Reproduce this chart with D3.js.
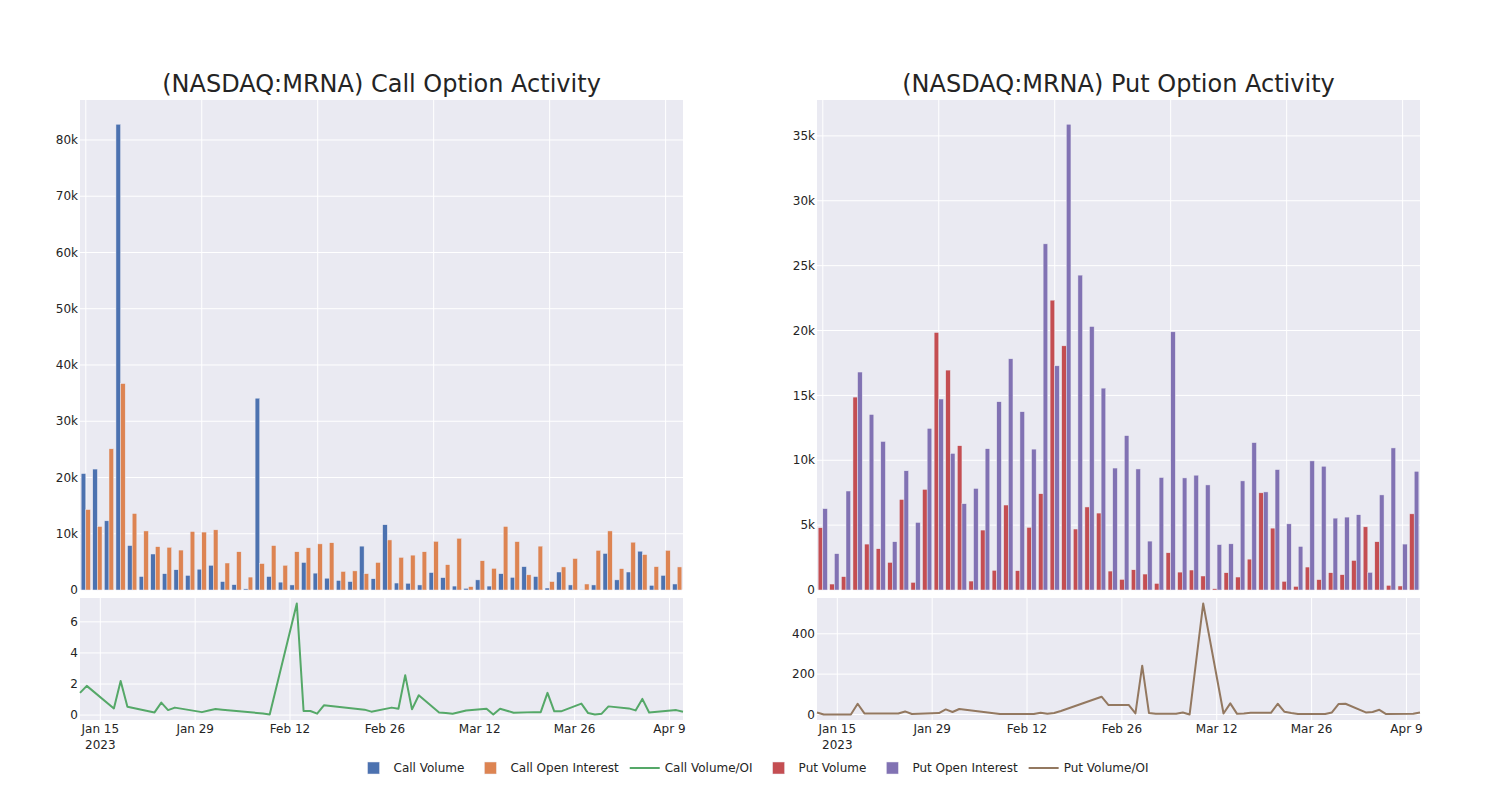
<!DOCTYPE html>
<html>
<head>
<meta charset="utf-8">
<script src="https://cdn.jsdelivr.net/npm/d3@7"></script>
<style>
  body { margin: 0; background: #fff; }
  text { font-family: "DejaVu Sans", sans-serif; fill: rgb(36,36,36); }
</style>
</head>
<body>
<svg id="chart" width="1500" height="800"></svg>
<script>
// trading days shown in both charts
const dates = ["2023-01-12","2023-01-13","2023-01-17","2023-01-18","2023-01-19","2023-01-23","2023-01-24","2023-01-25","2023-01-26","2023-01-30",
  "2023-01-31","2023-02-01","2023-02-02","2023-02-08","2023-02-09","2023-02-13","2023-02-14","2023-02-15","2023-02-16","2023-02-17",
  "2023-02-23","2023-02-24","2023-02-27","2023-02-28","2023-03-01","2023-03-02","2023-03-03","2023-03-06","2023-03-07","2023-03-08",
  "2023-03-10","2023-03-13","2023-03-14","2023-03-15","2023-03-16","2023-03-17","2023-03-20","2023-03-21","2023-03-22","2023-03-23",
  "2023-03-24","2023-03-27","2023-03-28","2023-03-29","2023-03-30","2023-03-31","2023-04-03","2023-04-04","2023-04-05","2023-04-06",
  "2023-04-10","2023-04-11"];

const callVolume = [20700,21500,12300,82800,7900,2400,6400,2900,3600,2600,
  3700,4400,1500,950,200,34100,2400,1400,900,4900,
  3000,2100,1700,1500,7800,2000,11600,1240,1200,900,
  3100,2200,700,300,1800,700,2900,2250,4150,2400,
  350,3200,900,50,900,6500,1800,3200,6900,830,
  2600,1070];
const callOI = [14300,11300,25100,36700,13600,10500,7700,7600,7100,10400,
  10300,10700,4800,6800,2300,4700,7900,4400,6800,7500,
  8200,8400,3300,3400,2900,4900,8900,5800,6200,6800,
  8650,4500,9200,600,5200,3850,11300,8600,2700,7800,
  1500,4100,5600,1070,7050,10500,3800,8500,6300,4150,
  7050,4100];
const callRatio = [1.43,1.88,0.43,2.2,0.54,0.17,0.8,0.32,0.48,0.19,
  0.3,0.39,0.35,0.1,0.04,7.18,0.26,0.26,0.09,0.63,
  0.35,0.22,0.48,0.41,2.57,0.37,1.28,0.17,0.13,0.09,
  0.3,0.41,0.04,0.41,0.28,0.15,0.19,0.19,1.43,0.24,
  0.24,0.74,0.13,0.04,0.09,0.56,0.43,0.3,1.04,0.17,
  0.32,0.22];

const putVolume = [4800,460,1030,14870,3540,3180,2130,6980,590,7760,
  19850,16950,11120,690,4620,1520,6550,1490,4830,7420,
  22340,18820,4700,6400,5930,1460,820,1560,1230,510,
  2870,1380,1540,1080,100,1330,1000,2380,7490,4770,
  670,280,1770,800,1330,1180,2280,4870,3720,360,
  310,5870];
const putOI = [6270,2800,7630,16800,13530,11450,3720,9190,5210,12460,
  14720,10530,6650,7830,10890,14510,17820,13740,10860,26680,
  17280,35900,24270,20310,15560,9400,11900,9330,3770,8670,
  19900,8640,8850,8100,3500,3560,8410,11360,7560,9280,
  5100,3360,9950,9540,5540,5620,5800,1360,7330,10950,
  3540,9150];
const putRatio = [10,0,0,53,5,5,5,15,2,7,
  25,12,27,2,2,2,8,3,7,17,
  88,47,47,5,242,7,3,3,10,0,
  550,5,55,3,5,8,8,53,13,7,
  2,2,2,10,52,53,10,12,23,2,
  3,10];

const timeTicks = ["2023-01-15","2023-01-29","2023-02-12","2023-02-26","2023-03-12","2023-03-26","2023-04-09"];
const callTicks = [0,10000,20000,30000,40000,50000,60000,70000,80000];
const putTicks = [0,5000,10000,15000,20000,25000,30000,35000];
const callRatioTicks = [0,2,4,6];
const putRatioTicks = [0,200,400];
const legendLabels = ["Call Volume","Call Open Interest","Call Volume/OI","Put Volume","Put Open Interest","Put Volume/OI"];

const colors = ["rgb(76,114,176)","rgb(221,132,82)","rgb(85,168,104)","rgb(196,78,82)","rgb(129,114,179)","rgb(147,120,96)"];
const bg = "rgb(234,234,242)";

const parse = d3.timeParse("%Y-%m-%d");
const days = dates.map(parse);

const svg = d3.select("#chart");

const panels = [
  { x0: 80, x1: 683, title: "(NASDAQ:MRNA) Call Option Activity",
    vol: callVolume, oi: callOI, ratio: callRatio, ticks: callTicks, rTicks: callRatioTicks, c: [colors[0], colors[1], colors[2]] },
  { x0: 817, x1: 1420, title: "(NASDAQ:MRNA) Put Option Activity",
    vol: putVolume, oi: putOI, ratio: putRatio, ticks: putTicks, rTicks: putRatioTicks, c: [colors[3], colors[4], colors[5]] }
];

const topY0 = 100, topY1 = 590, botY0 = 598, botY1 = 720;

panels.forEach(p => {
  let g = svg.append("g");

  // ---- top panel: grouped bars on a category axis
  let x = d3.scaleBand().domain(d3.range(dates.length)).range([p.x0, p.x1]).paddingInner(0).paddingOuter(0);
  let xi = d3.scaleBand().domain([0, 1]).range([x.bandwidth() * 0.1, x.bandwidth() * 0.9]);
  let yMax = d3.max(p.vol.concat(p.oi)) * 1.052;
  let y = d3.scaleLinear().domain([0, yMax]).range([topY1, topY0]);

  g.append("rect").attr("x", p.x0).attr("y", topY0).attr("width", p.x1 - p.x0).attr("height", topY1 - topY0).attr("fill", bg);

  g.selectAll(".hgrid").data(p.ticks).join("line")
    .attr("x1", p.x0).attr("x2", p.x1)
    .attr("y1", d => y(d)).attr("y2", d => y(d))
    .attr("stroke", "#fff").attr("stroke-width", 1);

  g.selectAll(".vgrid").data(d3.range(0, dates.length, 10)).join("line")
    .attr("x1", d => x(d) + x.bandwidth() / 2).attr("x2", d => x(d) + x.bandwidth() / 2)
    .attr("y1", topY0).attr("y2", topY1)
    .attr("stroke", "#fff").attr("stroke-width", 1);

  [p.vol, p.oi].forEach((vals, k) => {
    g.append("g").selectAll("rect").data(vals).join("rect")
      .attr("x", (d, i) => x(i) + xi(k))
      .attr("width", xi.bandwidth())
      .attr("y", d => y(d))
      .attr("height", d => y(0) - y(d))
      .attr("fill", p.c[k])
      .attr("stroke", bg).attr("stroke-width", 0.5);
  });

  g.append("g").selectAll("text").data(p.ticks).join("text")
    .attr("x", p.x0 - 2).attr("y", d => y(d)).attr("dy", "0.35em")
    .attr("text-anchor", "end").attr("font-size", 12)
    .text(d => d === 0 ? "0" : d3.format("~s")(d));

  g.append("text")
    .attr("x", (p.x0 + p.x1) / 2).attr("y", 92)
    .attr("text-anchor", "middle").attr("font-size", 24)
    .text(p.title);

  // ---- bottom panel: volume / OI line on a time axis
  let xt = d3.scaleTime().domain(d3.extent(days)).range([p.x0, p.x1]);
  let ext = d3.extent(p.ratio);
  let pad = (ext[1] - ext[0]) * 0.05;
  let yr = d3.scaleLinear().domain([ext[0] - pad, ext[1] + pad]).range([botY1, botY0]);

  g.append("rect").attr("x", p.x0).attr("y", botY0).attr("width", p.x1 - p.x0).attr("height", botY1 - botY0).attr("fill", bg);

  g.selectAll(".rgrid").data(p.rTicks).join("line")
    .attr("x1", p.x0).attr("x2", p.x1)
    .attr("y1", d => yr(d)).attr("y2", d => yr(d))
    .attr("stroke", "#fff").attr("stroke-width", 1);

  let tt = timeTicks.map(parse);
  g.selectAll(".tgrid").data(tt).join("line")
    .attr("x1", d => xt(d)).attr("x2", d => xt(d))
    .attr("y1", botY0).attr("y2", botY1)
    .attr("stroke", "#fff").attr("stroke-width", 1);

  let line = d3.line().x((d, i) => xt(days[i])).y(d => yr(d));
  g.append("path").datum(p.ratio)
    .attr("d", line)
    .attr("fill", "none").attr("stroke", p.c[2]).attr("stroke-width", 2)
    .attr("stroke-linejoin", "round");

  g.append("g").selectAll("text").data(p.rTicks).join("text")
    .attr("x", p.x0 - 2).attr("y", d => yr(d)).attr("dy", "0.35em")
    .attr("text-anchor", "end").attr("font-size", 12)
    .text(d => d);

  let fmt = d3.timeFormat("%b %-d");
  g.append("g").selectAll("text").data(tt).join("text")
    .attr("x", d => xt(d)).attr("y", 733)
    .attr("text-anchor", "middle").attr("font-size", 12)
    .text(d => fmt(d));
  g.append("text")
    .attr("x", xt(tt[0])).attr("y", 749)
    .attr("text-anchor", "middle").attr("font-size", 12)
    .text("2023");
});

// ---- legend
let leg = svg.append("g");
let items = legendLabels.map((label, i) => ({ label, color: colors[i], line: i === 2 || i === 5 }));
let widths = [];
items.forEach(it => {
  let t = leg.append("text").attr("font-size", 12).text(it.label);
  widths.push(t.node().getComputedTextLength());
  t.remove();
});
let gap = 6;
let total = d3.sum(widths) + items.length * 40 + (items.length - 1) * gap;
let cx = 751 - total / 2;
items.forEach((it, i) => {
  let gi = leg.append("g").attr("transform", `translate(${cx},768)`);
  if (it.line) {
    gi.append("line").attr("x1", 5).attr("x2", 35).attr("y1", 0).attr("y2", 0)
      .attr("stroke", it.color).attr("stroke-width", 2);
  } else {
    gi.append("rect").attr("x", 14).attr("y", -6).attr("width", 12).attr("height", 12)
      .attr("fill", it.color).attr("stroke", bg).attr("stroke-width", 0.5);
  }
  gi.append("text").attr("x", 40).attr("y", 0).attr("dy", "0.35em").attr("font-size", 12).text(it.label);
  cx += 40 + widths[i] + gap;
});
</script>
</body>
</html>
